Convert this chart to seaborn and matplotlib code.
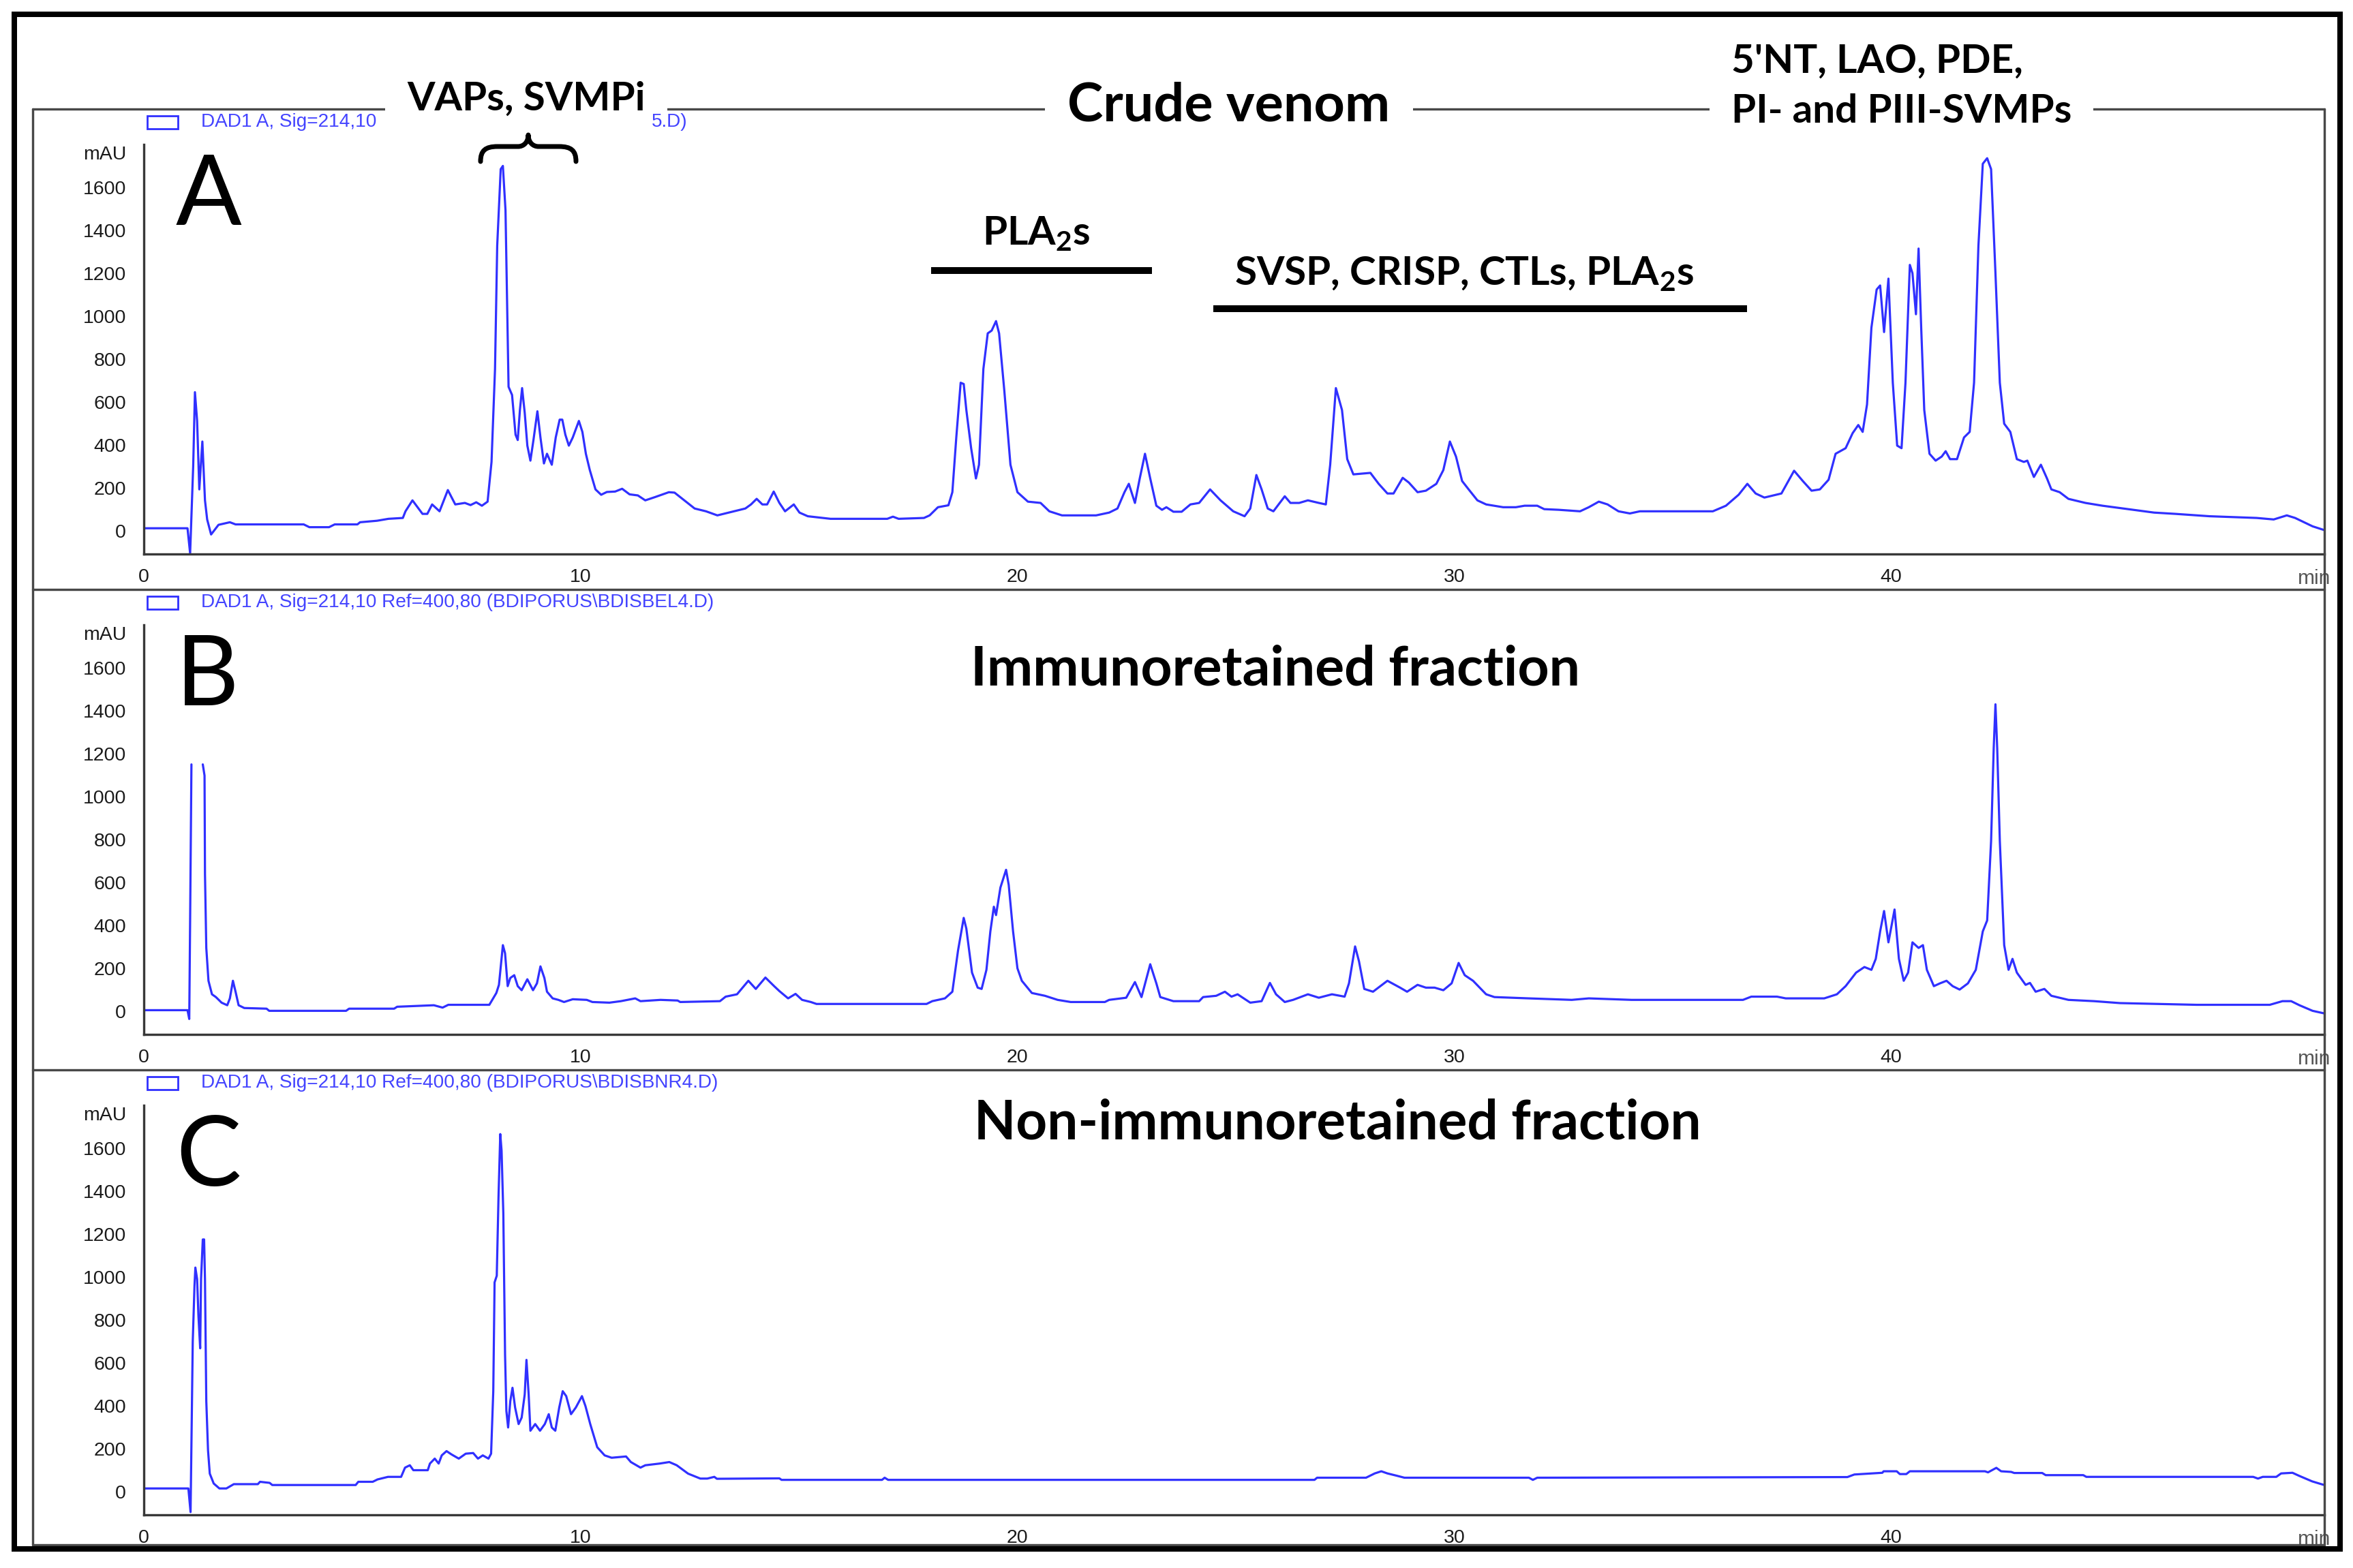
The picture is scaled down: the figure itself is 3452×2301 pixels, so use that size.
import numpy as np
import pandas as pd
import matplotlib
matplotlib.use("Agg")
import matplotlib.pyplot as plt
import matplotlib.transforms as mtrans
from matplotlib.lines import Line2D
from matplotlib.patches import Rectangle, PathPatch
from matplotlib.path import Path
from matplotlib.ticker import MultipleLocator, FixedLocator
import seaborn as sns

# ---------------- data ----------------
A_t = [0.00, 1.00, 1.06, 1.13, 1.17, 1.22, 1.27, 1.34, 1.40, 1.45, 1.54, 1.71, 1.97, 2.10, 3.66, 3.79, 4.24, 4.37,
       4.89, 4.95, 5.34, 5.60, 5.93, 5.99, 6.15, 6.38, 6.49, 6.60, 6.77, 6.96, 7.13, 7.35, 7.48, 7.61, 7.74, 7.87,
       7.96, 8.04, 8.09, 8.17, 8.22, 8.28, 8.33, 8.35, 8.43, 8.51, 8.56, 8.61, 8.66, 8.72, 8.78, 8.85, 8.92, 9.01,
       9.08, 9.16, 9.23, 9.34, 9.43, 9.52, 9.58, 9.65, 9.73, 9.82, 9.96, 10.04, 10.12, 10.21, 10.34, 10.47, 10.60,
       10.79, 10.95, 11.12, 11.31, 11.48, 11.70, 12.02, 12.15, 12.41, 12.61, 12.87, 13.13, 13.39, 13.77, 13.90,
       14.03, 14.16, 14.27, 14.42, 14.55, 14.68, 14.88, 15.01, 15.20, 15.72, 17.02, 17.15, 17.28, 17.86, 17.99,
       18.18, 18.42, 18.51, 18.60, 18.70, 18.77, 18.83, 18.94, 19.05, 19.12, 19.22, 19.32, 19.41, 19.51, 19.58,
       19.70, 19.84, 20.00, 20.24, 20.53, 20.73, 21.02, 21.80, 22.10, 22.29, 22.45, 22.55, 22.69, 22.80, 22.92,
       23.04, 23.18, 23.31, 23.41, 23.57, 23.76, 23.96, 24.16, 24.41, 24.65, 24.94, 25.20, 25.33, 25.47, 25.59,
       25.73, 25.86, 26.12, 26.25, 26.45, 26.65, 26.90, 27.06, 27.16, 27.29, 27.43, 27.55, 27.69, 28.08, 28.27,
       28.47, 28.61, 28.82, 28.96, 29.16, 29.35, 29.59, 29.75, 29.90, 30.04, 30.18, 30.33, 30.53, 30.73, 31.12,
       31.41, 31.61, 31.90, 32.06, 32.39, 32.88, 33.08, 33.31, 33.51, 33.76, 34.02, 34.25, 35.92, 36.22, 36.51,
       36.71, 36.90, 37.10, 37.49, 37.78, 37.98, 38.18, 38.37, 38.57, 38.73, 38.96, 39.12, 39.25, 39.35, 39.45,
       39.55, 39.67, 39.75, 39.84, 39.94, 40.04, 40.14, 40.24, 40.33, 40.43, 40.49, 40.57, 40.63, 40.69, 40.76,
       40.88, 41.02, 41.16, 41.25, 41.35, 41.51, 41.67, 41.80, 41.90, 42.00, 42.10, 42.20, 42.29, 42.39, 42.49,
       42.59, 42.73, 42.88, 43.04, 43.12, 43.27, 43.43, 43.57, 43.67, 43.86, 44.06, 44.45, 44.84, 45.43, 46.02,
       46.51, 47.29, 48.37, 48.76, 49.06, 49.25, 49.65, 49.94]
A_v = [12, 12, -105, 300, 646, 512, 193, 416, 142, 53, -17, 28, 40, 30, 30, 17, 17, 30,
       30, 40, 47, 56, 60, 91, 142, 79, 79, 123, 91, 190, 123, 130, 120, 133, 117, 136,
       321, 754, 1328, 1685, 1700, 1494, 920, 671, 633, 448, 423, 563, 665, 550, 397, 327, 423, 557,
       435, 314, 359, 308, 435, 518, 518, 448, 397, 435, 512, 461, 359, 283, 193, 168, 181,
       183, 196, 170, 165, 142, 157, 180, 178, 136, 104, 91, 72, 85, 104, 123,
       149, 123, 123, 183, 130, 91, 123, 85, 68, 56, 56, 66, 56, 60, 72,
       110, 119, 180, 435, 690, 684, 563, 385, 244, 308, 754, 920, 933, 977, 920,
       652, 308, 180, 136, 130, 91, 72, 72, 85, 104, 180, 219, 130, 244, 359,
       244, 117, 98, 110, 89, 89, 123, 130, 193, 142, 91, 68, 104, 260, 193,
       104, 91, 161, 130, 130, 142, 130, 123, 308, 665, 563, 334, 263, 270, 219,
       174, 174, 247, 225, 180, 187, 219, 283, 416, 346, 232, 193, 142, 123, 110,
       110, 117, 117, 101, 98, 91, 110, 136, 123, 91, 81, 91, 91, 117, 168,
       219, 174, 155, 174, 280, 232, 187, 193, 238, 359, 385, 455, 493, 461, 589,
       946, 1124, 1143, 926, 1175, 690, 397, 385, 690, 1239, 1200, 1009, 1315, 946, 563,
       359, 327, 346, 371, 334, 334, 435, 461, 690, 1328, 1710, 1736, 1685, 1200, 690,
       499, 461, 334, 321, 327, 251, 308, 244, 193, 180, 149, 130, 117, 101, 85,
       79, 68, 60, 53, 72, 60, 21, 2]

B_t = [0.00, 1.00, 1.04, 1.06, 1.09,
       1.35, 1.39, 1.40, 1.43, 1.48, 1.56, 1.65, 1.78, 1.91, 1.97, 2.04, 2.10, 2.17, 2.30, 2.81, 2.87, 4.63, 4.70,
       5.73, 5.80, 6.64, 6.84, 6.97, 7.91, 8.07, 8.13, 8.22, 8.27, 8.33, 8.39, 8.48, 8.56, 8.65, 8.78, 8.91, 9.00,
       9.08, 9.17, 9.23, 9.36, 9.49, 9.62, 9.82, 10.14, 10.27, 10.66, 10.92, 11.25, 11.37, 11.83, 12.22, 12.28,
       13.19, 13.32, 13.58, 13.84, 14.01, 14.23, 14.43, 14.55, 14.75, 14.92, 15.07, 15.27, 15.40, 17.92, 18.05,
       18.34, 18.51, 18.64, 18.77, 18.83, 18.96, 19.09, 19.18, 19.29, 19.38, 19.46, 19.51, 19.61, 19.74, 19.80,
       19.90, 20.00, 20.10, 20.33, 20.63, 20.92, 21.22, 22.00, 22.10, 22.49, 22.69, 22.84, 23.04, 23.18, 23.27,
       23.57, 24.16, 24.25, 24.55, 24.75, 24.90, 25.04, 25.33, 25.59, 25.78, 25.92, 26.12, 26.31, 26.65, 26.90,
       27.20, 27.49, 27.59, 27.73, 27.82, 27.94, 28.14, 28.47, 28.76, 28.92, 29.16, 29.35, 29.55, 29.75, 29.94,
       30.10, 30.24, 30.43, 30.73, 30.92, 31.71, 32.69, 33.08, 34.06, 36.61, 36.80, 37.39, 37.59, 38.47, 38.76,
       38.96, 39.20, 39.39, 39.55, 39.65, 39.75, 39.84, 39.94, 40.08, 40.18, 40.29, 40.39, 40.49, 40.63, 40.73,
       40.82, 40.98, 41.12, 41.27, 41.41, 41.57, 41.76, 41.94, 42.10, 42.20, 42.29, 42.35, 42.39, 42.43, 42.49,
       42.59, 42.69, 42.78, 42.88, 43.08, 43.18, 43.31, 43.51, 43.67, 44.06, 44.65, 45.24, 47.00, 48.67, 48.96,
       49.16, 49.35, 49.65, 49.94]
B_v = [5, 5, -36, 423, 1150,
       1150, 1098, 640, 295, 142, 79, 66, 40, 28, 60, 142, 91, 28, 15, 12, 2, 2, 12,
       12, 21, 28, 17, 30, 30, 85, 123, 308, 270, 117, 155, 168, 117, 98, 149, 98, 130,
       209, 155, 91, 60, 53, 43, 56, 53, 43, 40, 47, 60, 47, 53, 50, 43,
       47, 68, 79, 142, 104, 157, 117, 94, 60, 81, 53, 43, 34, 34, 47,
       60, 91, 283, 435, 385, 180, 110, 104, 193, 372, 487, 448, 576, 659, 589,
       372, 200, 142, 85, 72, 53, 43, 43, 53, 63, 136, 66, 219, 130, 66,
       47, 47, 66, 72, 91, 68, 79, 40, 47, 132, 79, 43, 53, 79, 63,
       79, 68, 130, 302, 232, 104, 91, 142, 110, 91, 123, 110, 110, 98, 130,
       225, 168, 142, 79, 66, 60, 53, 60, 53, 53, 68, 68, 60, 60, 79,
       117, 180, 206, 193, 244, 372, 467, 321, 474, 244, 142, 180, 321, 295, 308,
       193, 117, 130, 142, 117, 101, 130, 193, 372, 423, 793, 1226, 1430, 1226, 793,
       308, 193, 244, 180, 123, 132, 91, 104, 72, 53, 47, 38, 30, 30, 47,
       47, 28, 2, -11]
B_seg = [0] * 5 + [1] * (len(B_t) - 5)

C_t = [0.00, 1.02, 1.07, 1.12, 1.16, 1.18, 1.22, 1.25, 1.29, 1.31, 1.35, 1.38, 1.40, 1.43, 1.47, 1.51, 1.60,
       1.73, 1.89, 2.06, 2.61, 2.66, 2.88, 2.94, 4.85, 4.91, 5.24, 5.35, 5.59, 5.89, 5.98, 6.09, 6.17, 6.50,
       6.55, 6.66, 6.75, 6.82, 6.93, 7.04, 7.21, 7.37, 7.54, 7.65, 7.76, 7.89, 7.95, 8.00, 8.03, 8.08, 8.12,
       8.16, 8.19, 8.23, 8.27, 8.30, 8.34, 8.39, 8.44, 8.50, 8.58, 8.65, 8.72, 8.76, 8.81, 8.85, 8.96, 9.07,
       9.18, 9.27, 9.34, 9.42, 9.51, 9.59, 9.67, 9.78, 9.89, 10.03, 10.11, 10.22, 10.38, 10.55, 10.71, 11.04,
       11.15, 11.37, 11.48, 11.81, 12.03, 12.20, 12.46, 12.74, 12.90, 13.06, 13.12, 14.55, 14.60, 16.90, 16.96,
       17.04, 26.80, 26.86, 27.98, 28.18, 28.33, 28.47, 28.67, 28.86, 31.71, 31.80, 31.90, 39.00, 39.16, 39.80,
       39.83, 40.13, 40.20, 40.35, 40.43, 42.15, 42.22, 42.41, 42.52, 42.75, 42.82, 43.46, 43.54, 44.40, 44.47,
       48.29, 48.40, 48.51, 48.82, 48.93, 49.19, 49.34, 49.64, 49.90]
C_v = [15, 15, -95, 699, 960, 1044, 990, 821, 668, 990, 1175, 1175, 990, 422, 192, 84, 38,
       15, 15, 35, 35, 46, 41, 31, 31, 46, 46, 57, 69, 69, 112, 123, 100, 100,
       131, 154, 131, 169, 189, 174, 154, 177, 180, 154, 169, 154, 177, 468, 975, 1006, 1374,
       1666, 1589, 1297, 637, 376, 299, 422, 484, 392, 315, 345, 453, 614, 453, 284, 315, 284,
       315, 361, 299, 284, 392, 468, 445, 361, 392, 445, 399, 315, 207, 169, 158, 164,
       138, 112, 123, 131, 138, 123, 84, 61, 61, 69, 60, 62, 55, 55, 65,
       55, 55, 65, 65, 85, 95, 85, 75, 65, 65, 55, 65, 68, 80, 88,
       95, 95, 82, 82, 95, 95, 90, 111, 95, 92, 87, 87, 77, 77, 69,
       69, 61, 69, 69, 85, 88, 74, 48, 32]

panel_letters = ["A", "B", "C"]
legend_head = ["DAD1 A, Sig=214,10",
               r"DAD1 A, Sig=214,10 Ref=400,80 (BDIPORUS\BDISBEL4.D)",
               r"DAD1 A, Sig=214,10 Ref=400,80 (BDIPORUS\BDISBNR4.D)"]
legend_tail_A = "5.D)"
y_ticks = [0, 200, 400, 600, 800, 1000, 1200, 1400, 1600]
x_ticks = [0, 10, 20, 30, 40]

# ---------------- style ----------------
W, H, DPI = 3452, 2301, 100
PT = 72.0 / DPI
sns.set_theme(style="white")
plt.rcParams["font.family"] = ["Liberation Sans", "DejaVu Sans"]
plt.rcParams["mathtext.fontset"] = "custom"
plt.rcParams["mathtext.rm"] = "Lato"
plt.rcParams["mathtext.bf"] = "Lato:bold"

TRACE = "#3030ff"
LEGTXT = "#4444ff"
AXC = "#383838"
FRAME = "#484848"
TICKFS = 20.5
LEGFS = 20.2

fig = plt.figure(figsize=(W / DPI, H / DPI), dpi=DPI)
fig.patch.set_facecolor("white")


def fx(x):
    return x / W


def fy(y):
    return 1 - y / H


X0, X1 = 211, 3410
PANEL_TOP = [160, 865, 1570]
BOTTOM = 2267

frames = [
    pd.DataFrame({"t": A_t, "v": A_v, "seg": [0] * len(A_t)}),
    pd.DataFrame({"t": B_t, "v": B_v, "seg": B_seg}),
    pd.DataFrame({"t": C_t, "v": C_v, "seg": [0] * len(C_t)}),
]

for i, (ptop, df) in enumerate(zip(PANEL_TOP, frames)):
    at, ab = ptop + 52, ptop + 653
    ax = fig.add_axes([fx(X0), fy(ab), (X1 - X0) / W, (ab - at) / H])
    ax.patch.set_visible(False)
    sns.lineplot(data=df, x="t", y="v", units="seg", estimator=None, sort=False,
                 color=TRACE, linewidth=3.2 * PT, ax=ax, legend=False)
    ax.set_xlim(0, 49.92)
    ax.set_ylim(-108, 1800)
    ax.set_xlabel("")
    ax.set_ylabel("")
    for s in ("top", "right"):
        ax.spines[s].set_visible(False)
    for s in ("left", "bottom"):
        ax.spines[s].set_color(AXC)
        ax.spines[s].set_linewidth(3.4 * PT)
    ax.yaxis.set_major_locator(FixedLocator(y_ticks))
    ax.yaxis.set_minor_locator(MultipleLocator(40))
    ax.xaxis.set_major_locator(FixedLocator(x_ticks))
    ax.xaxis.set_minor_locator(MultipleLocator(2))
    ax.tick_params(axis="both", which="both", direction="out", colors=AXC,
                   labelcolor="#1a1a1a", labelsize=TICKFS)
    ax.tick_params(axis="y", which="major", length=14 * PT, width=2.8 * PT, pad=12 * PT)
    ax.tick_params(axis="y", which="minor", length=8 * PT, width=2.4 * PT)
    ax.tick_params(axis="x", which="major", length=13 * PT, width=2.8 * PT, pad=8 * PT)
    ax.tick_params(axis="x", which="minor", length=7 * PT, width=2.4 * PT)
    bl = mtrans.blended_transform_factory(ax.transAxes, ax.transData)
    ax.text(-26 / (X1 - X0), 1752, "mAU", transform=bl, ha="right", va="center",
            fontsize=TICKFS, color="#1a1a1a")
    ax.text(1.003, -36 / 601, "min", transform=ax.transAxes, ha="right", va="center",
            fontsize=TICKFS + 1, color="#555555", clip_on=False)

    # legend header (box + signal description)
    fig.add_artist(Rectangle((fx(216), fy(ptop + 29)), (261 - 216) / W, 19 / H,
                             transform=fig.transFigure, fill=False, edgecolor=TRACE,
                             linewidth=2.8 * PT, zorder=2))
    fig.text(fx(295), fy(ptop + 19), legend_head[i], ha="left", va="center",
             fontsize=LEGFS, color=LEGTXT, zorder=2)
    # panel letter
    fig.text(fx(258), fy(ptop + 170), panel_letters[i], family="Lato", fontsize=103,
             ha="left", va="baseline", color="black", zorder=4)

# visible tail of the partly covered legend text in panel A
fig.text(fx(956), fy(160 + 19), legend_tail_A, ha="left", va="center",
         fontsize=LEGFS, color=LEGTXT, zorder=6)

# panel frames
fl = 3.4 * PT
for (xa, ya, xb, yb) in [(48, 160, 3410, 160), (48, 160, 48, BOTTOM), (3410, 160, 3410, BOTTOM),
                         (48, 865, 3410, 865), (48, 1570, 3410, 1570), (48, BOTTOM, 3410, BOTTOM)]:
    fig.add_artist(Line2D([fx(xa), fx(xb)], [fy(ya), fy(yb)], transform=fig.transFigure,
                          color=FRAME, linewidth=fl, zorder=2.2))

# outer black frame
fig.add_artist(Rectangle((fx(21), fy(2273)), (3433 - 21) / W, (2273 - 21) / H,
                         transform=fig.transFigure, fill=False, edgecolor="black",
                         linewidth=8 * PT, zorder=10))

# ---------------- annotations ----------------
bold = dict(family="Lato", weight="bold", color="black")


def wbox(p):
    return dict(facecolor="white", edgecolor="none", boxstyle=f"square,pad={p}")


fig.text(fx(772), fy(145), "VAPs, SVMPi", fontsize=42, ha="center", va="center",
         bbox=wbox(0.55), zorder=5, **bold)
fig.text(fx(1803), fy(156), "Crude venom", fontsize=57, ha="center", va="center",
         bbox=wbox(0.42), zorder=5, **bold)
fig.text(fx(2540), fy(164), "PI- and PIII-SVMPs", fontsize=42, ha="left", va="center",
         bbox=wbox(0.55), zorder=5, **bold)
fig.text(fx(2540), fy(90), "5'NT, LAO, PDE,", fontsize=42, ha="left", va="center",
         zorder=6, **bold)
fig.text(fx(1520), fy(343), r"PLA$_{\mathbf{2}}$s", fontsize=42, ha="center", va="center",
         zorder=5, **bold)
fig.text(fx(2148), fy(402), r"SVSP, CRISP, CTLs, PLA$_{\mathbf{2}}$s", fontsize=42,
         ha="center", va="center", zorder=5, **bold)
fig.text(fx(1871), fy(982), "Immunoretained fraction", fontsize=58, ha="center",
         va="center", zorder=5, **bold)
fig.text(fx(1962), fy(1649), "Non-immunoretained fraction", fontsize=57.5, ha="center",
         va="center", zorder=5, **bold)

# underline bars
for (xa, xb, yy) in [(1366, 1690, 397), (1780, 2563, 453)]:
    fig.add_artist(Line2D([fx(xa), fx(xb)], [fy(yy), fy(yy)], transform=fig.transFigure,
                          color="black", linewidth=10 * PT, solid_capstyle="butt", zorder=5))

# curly brace over VAPs peak
bp = [(705, 237), (705, 221), (712, 215), (730, 215), (760, 215), (768, 215), (775, 209), (775, 198),
      (775, 209), (782, 215), (790, 215), (820, 215), (838, 215), (845, 221), (845, 237)]
codes = [Path.MOVETO, Path.CURVE4, Path.CURVE4, Path.CURVE4, Path.LINETO, Path.CURVE4, Path.CURVE4,
         Path.CURVE4, Path.CURVE4, Path.CURVE4, Path.CURVE4, Path.LINETO, Path.CURVE4, Path.CURVE4,
         Path.CURVE4]
brace = Path([(fx(x), fy(y)) for x, y in bp], codes)
fig.add_artist(PathPatch(brace, transform=fig.transFigure, fill=False, edgecolor="black",
                         linewidth=7 * PT, capstyle="round", joinstyle="round", zorder=7))

fig.savefig("out.png", dpi=DPI, facecolor="white")
